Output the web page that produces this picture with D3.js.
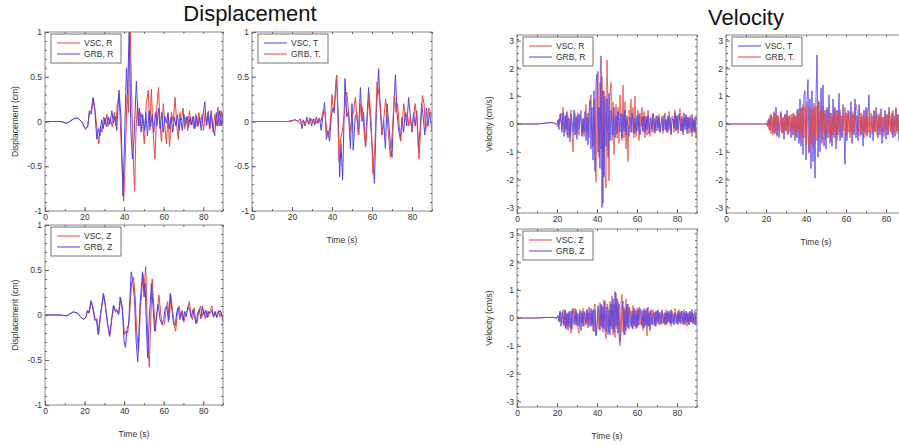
<!DOCTYPE html>
<html>
<head>
<meta charset="utf-8">
<script src="https://cdn.jsdelivr.net/npm/d3@7"></script>
<style>
  body { margin: 0; background: #fff; }
  text { font-family: "Liberation Sans", Arial, sans-serif; }
</style>
</head>
<body>
<div class="canvas"></div>
<script>
// ---- displacement traces, [time (s), displacement (cm)] ----
const dispR_VSC = [[0,0],[8,0],[11,-0.02],[14.5,0.03],[16.5,0.04],[18.5,0],[20.5,-0.09],[21.6,-0.05],[22.5,0.1],[23.4,0.08],[24.5,0.25],[25.4,0.1],[26.4,-0.1],[27.2,-0.25],[28,-0.05],[28.8,-0.12],[29.6,0.05],[30.4,-0.04],[31.3,0.08],[32.1,-0.05],[33,0.04],[34,-0.06],[35,0.1],[35.8,-0.05],[36.6,0.2],[37.5,0.3],[38.6,-0.3],[39.8,-0.89],[40.6,-0.4],[41.5,0.3],[42.2,0.1],[43,1.15],[43.9,0.2],[44.5,-0.3],[45.3,-0.78],[46,-0.1],[46.8,0.2],[47.6,-0.05],[48.4,0.1],[49.2,0.02],[50.2,-0.25],[51.2,0.2],[52.2,0.35],[53,-0.1],[53.8,0.36],[54.6,-0.1],[55.6,-0.42],[56.5,0.15],[57.4,0.38],[58.2,-0.05],[58.9,-0.23],[59.8,0.2],[60.6,-0.05],[61.4,-0.25],[62.2,0.05],[63,-0.28],[63.9,0.1],[64.8,0],[65.8,0.27],[66.6,-0.05],[67.4,-0.2],[68.2,0.1],[69,0.02],[69.8,0.15],[70.6,-0.08],[71.4,0.05],[72.2,-0.1],[73,0.12],[73.8,-0.04],[74.6,0.05],[75.4,-0.08],[76.2,0.08],[77,-0.06],[77.8,0.1],[78.6,-0.04],[79.4,0.08],[80.2,-0.1],[81,0.1],[81.8,-0.04],[82.6,0.12],[83.4,-0.08],[84.2,0.05],[85,-0.12],[85.8,0.08],[86.6,-0.05],[87.4,0.16],[88.2,-0.05],[89,0.12],[90,-0.05]];
const dispR_GRB = [[0,0],[8,0],[11,-0.02],[14.5,0.03],[16.5,0.04],[18.5,0],[20.5,-0.08],[21.6,-0.06],[22.4,0.12],[23.2,0.1],[24.3,0.27],[25.2,0.12],[26.2,-0.2],[27,-0.08],[27.8,-0.16],[28.6,0.02],[29.4,-0.08],[30.3,0.04],[31.2,-0.06],[32,0.05],[32.8,-0.03],[33.8,0.12],[34.6,-0.02],[35.5,0.06],[36.3,-0.1],[37.4,0.35],[38.4,0.05],[39.4,-0.83],[40.1,-0.3],[41.2,0.6],[41.8,0.3],[42.6,1.1],[43.4,-0.1],[44.2,-0.42],[45,-0.2],[46.2,0.45],[47.2,-0.05],[47.8,0.15],[48.6,-0.12],[49.4,0.08],[50.2,-0.1],[51,0.1],[51.8,-0.16],[52.6,0.12],[53.4,-0.06],[54.2,0.08],[55,-0.12],[55.8,0.1],[56.6,-0.05],[57.4,0.15],[58.2,-0.08],[59,0.1],[59.8,-0.12],[60.6,0.06],[61.4,-0.02],[62.2,0.1],[63,-0.08],[63.8,0.05],[64.6,-0.12],[65.4,0.05],[66.2,-0.05],[67,0.08],[67.8,-0.1],[68.6,0.04],[69.4,-0.1],[70.2,0.08],[71,-0.04],[71.8,0.06],[72.6,-0.06],[73.4,0.05],[74.2,-0.04],[75,0.06],[75.8,-0.08],[76.6,0.06],[77.4,-0.05],[78.2,0.05],[79,-0.1],[79.8,0.05],[80.8,0.22],[81.6,-0.05],[82.4,0.1],[83.2,-0.08],[84,0.12],[84.8,-0.05],[85.8,-0.16],[86.6,0.1],[87.4,-0.05],[88.2,0.12],[89,-0.05],[90,0.1]];

const dispT_VSC = [[0,0],[18,0],[20,0.01],[21.5,0.02],[23,0],[24.2,0.03],[25,-0.08],[25.8,0.01],[26.6,-0.05],[27.4,0.05],[28.2,-0.03],[29,0.04],[29.8,-0.05],[30.6,0.03],[31.4,-0.04],[32.2,0.05],[33,-0.02],[33.8,0.03],[34.6,-0.1],[35.4,0.05],[36.3,0.21],[37.2,-0.2],[38,-0.1],[38.8,-0.22],[39.6,0.05],[40.4,0.15],[41.1,0.1],[42.2,0.5],[43.1,0.1],[43.8,-0.62],[44.5,-0.25],[45.3,-0.65],[46.5,0.48],[47.4,0.05],[48.2,0.12],[49.2,-0.3],[50,0.2],[50.6,-0.32],[51.6,0.05],[52.4,0.1],[53.2,-0.15],[54.2,0.38],[55,0],[55.8,0.1],[56.7,-0.28],[57.5,0.05],[58.3,0.38],[59.2,0],[60.2,-0.3],[61.2,-0.69],[62.2,0.1],[63.3,0.59],[64.2,0.1],[65,-0.15],[65.8,0.02],[66.7,-0.3],[67.5,0.2],[68.3,0],[69.2,-0.25],[70,-0.4],[70.8,0.1],[71.7,0.52],[72.5,0.1],[73.3,-0.1],[74.2,-0.2],[75,0.05],[75.8,-0.12],[76.6,0.1],[77.4,-0.05],[78.3,0.27],[79.2,0.05],[80,-0.12],[80.8,0.1],[81.6,-0.05],[82.4,0.12],[83.2,-0.3],[84,-0.1],[84.8,0.2],[85.6,0.05],[86.4,-0.15],[87.2,0.15],[88,-0.05],[88.8,0.1],[90,-0.1]];
const dispT_GRB = [[0,0],[18,0],[20,0.005],[21.5,0.02],[23,0],[24.5,-0.03],[25.5,0.02],[26.5,-0.04],[27.5,0.03],[28.5,-0.03],[29.5,0.03],[30.5,-0.02],[31.5,0.03],[32.5,-0.02],[33.5,0.04],[34.5,0],[35.5,0.12],[36.5,0.1],[37.5,-0.15],[38.3,-0.18],[39.2,0],[40,0.3],[40.8,0.1],[41.6,0.3],[42.4,0.52],[43.5,-0.45],[44.3,-0.2],[45.2,-0.1],[46.2,0.1],[47.4,0.33],[48.3,0.1],[49.2,-0.1],[50,0.05],[50.8,0.1],[51.7,0.27],[52.6,0],[53.4,-0.15],[54.3,0.2],[55.2,0.15],[56.2,-0.15],[56.9,-0.28],[57.8,0.1],[58.6,0.3],[59.6,0],[60.4,-0.58],[61.4,-0.3],[62.5,0.44],[63.5,0.3],[64.4,0.1],[65.2,-0.15],[66,0.05],[66.8,0.25],[67.6,0.05],[68.4,-0.2],[69.2,-0.4],[70.2,-0.1],[71.2,0.3],[72,0.1],[72.8,0.2],[73.6,-0.05],[74.4,-0.22],[75.2,0],[75.9,0.2],[76.8,0.02],[77.6,0.1],[78.4,-0.05],[79.2,0.05],[80,-0.1],[80.8,0.05],[81.6,0.2],[82.5,0],[83.5,-0.42],[84.3,-0.1],[85.2,0.29],[86,0.2],[86.8,-0.1],[87.6,0],[88.4,0.15],[89.2,0.1],[90,0.05]];

const dispZ_VSC = [[0,0],[8,0],[11,-0.01],[14.3,0.035],[16.5,0.02],[18,-0.02],[19.7,-0.05],[20.8,-0.02],[21.6,0.05],[22.4,0.03],[23.4,0.15],[24.3,0.08],[25.4,-0.05],[26.2,-0.04],[27.2,-0.2],[28.2,0.02],[29.7,0.22],[30.6,0.1],[31.7,-0.1],[32.8,-0.24],[33.8,-0.05],[34.8,0.1],[35.7,0.03],[36.5,0.05],[37.4,0.02],[38.3,0.18],[39.2,0.05],[40.2,-0.22],[41,-0.18],[41.8,-0.2],[42.6,-0.05],[43.8,0.36],[44.8,0.42],[45.6,0.2],[46.4,-0.2],[47.3,-0.4],[48.2,0.05],[49.6,0.45],[50.2,0.3],[50.9,0.54],[51.7,-0.1],[52.7,-0.58],[53.4,-0.1],[54.2,0.4],[55,0.1],[55.8,-0.18],[56.8,0.05],[57.6,0.22],[58.6,0],[59.5,-0.12],[60.4,-0.1],[61.2,0.05],[62,0.15],[62.8,-0.05],[63.6,0.22],[64.5,0.05],[65.4,-0.12],[66.1,-0.18],[67,0.05],[67.8,0.1],[68.6,-0.02],[69.4,0.05],[70.2,-0.08],[71,0.02],[72,0.05],[73,0.15],[73.8,0],[74.6,-0.05],[75.4,0.08],[76.2,-0.05],[77,-0.08],[77.8,0.05],[78.6,0.1],[79.4,-0.02],[80.2,0.06],[81,-0.04],[81.8,0.05],[82.6,-0.02],[83.4,0.04],[84.4,0.1],[85.2,-0.03],[86,0.03],[86.8,-0.02],[87.6,0.05],[88.4,-0.02],[89.2,0.03],[90,-0.07]];
const dispZ_GRB = [[0,0],[8,0],[11,-0.01],[14.3,0.035],[16.5,0.02],[18,-0.02],[19.7,-0.05],[20.6,-0.03],[21.4,0.05],[22.2,0.02],[23.2,0.16],[24,0.1],[25.2,-0.06],[26,-0.05],[26.9,-0.22],[28,0],[29.5,0.24],[30.4,0.12],[31.5,-0.08],[32.6,-0.23],[33.6,-0.06],[34.6,0.11],[35.5,0.05],[36.3,0.06],[37.2,0],[38,0.2],[39,0.1],[40,-0.3],[40.7,-0.36],[41.5,-0.15],[42.3,-0.1],[43.6,0.48],[44.5,0.35],[45.3,0.15],[46.1,-0.3],[46.9,-0.52],[48,0.1],[49.3,0.48],[50.1,0.2],[50.6,0.35],[51.4,-0.2],[51.9,-0.48],[52.8,0],[53.8,0.35],[54.6,0.1],[55.4,-0.18],[56.4,0],[57.2,0.12],[58.2,-0.05],[59.1,-0.1],[60,-0.05],[60.8,0.08],[61.6,0.1],[62.4,-0.08],[63.3,0.24],[64.2,0.05],[65,-0.1],[65.8,-0.12],[66.6,0.03],[67.4,0.08],[68.2,-0.05],[69,0.04],[69.8,-0.06],[70.6,0.04],[71.4,-0.02],[72.4,0.1],[73.2,0.05],[74,-0.03],[74.8,0.06],[75.6,-0.02],[76.4,-0.1],[77.2,0.02],[78,0.06],[78.8,-0.04],[79.6,0.1],[80.4,0],[81.2,0.05],[82,-0.03],[82.8,0.04],[83.6,0.02],[84.4,0.05],[85.2,-0.02],[86,0.04],[86.8,-0.03],[87.6,0.02],[88.6,0.05],[89.3,0],[90,-0.08]];

// ---- velocity traces: shared sample times (s), values in cm/s ----
const velTime = [0, 10, 15, 18, 19.5].concat(d3.range(20, 90.01, 0.5));

const velR_VSC = [0, 0, 0.04, 0.05, 0,
  0, -0.1, 0.2, 0.05, 0.4, -0.2, 0.6, 0.1, -0.3, 0.35,
  -0.4, 0.3, 0.1, -0.45, 0.5, -0.3, -1.0, 0.25, 0.4, -0.35,
  0.3, -0.2, -0.4, 0.25, 0.5, -0.35, 0.2, -0.45, 0.1, 0.7,
  -0.3, 0.4, -0.5, 0.6, 1.05, -0.4, -0.8, 0.9, -1.2, -2.1,
  0.9, 1.9, -1.2, 1.5, -0.9, 1.7, -2.85, 1.2, -1.8, -2.3,
  2.3, 0.5, -2.05, 1.0, 1.5, -0.6, 0.8, -1.1, -0.3, 0.7,
  -0.5, 0.6, -0.7, 1.05, 0.2, -0.6, 1.4, -0.5, 0.8, -0.9,
  0.2, -1.35, 0.5, 0.1, 0.9, -0.3, 0.6, -0.5, 1.0, -0.45,
  0.1, 0.5, -0.6, 0.4, -0.1, 0.6, -0.3, 0.45, -0.5, 0.3,
  -0.4, 0.5, 0.1, -0.45, 0.25, -0.3, 0.4, 0.1, -0.35, 0.3,
  0.2, -0.25, 0.35, -0.3, -0.1, 0.3, -0.35, 0.2, 0.4, -0.25,
  0.2, -0.3, 0.45, 0.1, -0.4, 0.3, 0.25, -0.3, 0.5, -0.2,
  0.3, -0.35, 0, 0.55, -0.25, 0.3, -0.4, 0.2, -0.1, 0.35,
  -0.2, 0.25, -0.35, 0.3, 0.1, -0.45, 0.2, -0.3, 0.25, -0.5,
  -0.1];
const velR_GRB = [0, 0, 0.04, 0.05, 0,
  0, 0.15, -0.2, 0.35, 0.1, -0.3, 0.4, -0.45, 0.3, -0.2,
  0.45, -0.5, 0.2, -0.65, 0.35, 0.1, -0.3, 0.5, -0.4, 0.25,
  -0.55, 0.4, -0.2, 0.35, 0.05, -0.45, 0.2, -0.3, 0.45, -0.6,
  0.25, -0.75, 0.4, 0.85, -0.9, 0.6, -1.3, 1.2, -1.7, 1.5,
  1.8, -1.0, 0.6, -1.6, 2.45, -3.0, 1.2, -1.9, 1.0, -0.8,
  0.9, -1.2, 1.1, -0.6, 0.5, 0.1, -0.4, 0.6, -0.5, 0.3,
  -0.35, 0.45, 0.1, -0.3, 0.4, -0.5, 0.35, -0.25, 0.5, -0.4,
  0.3, -0.1, -0.45, 0.25, -0.3, 0.4, 0.1, -0.35, 0.2, -0.3,
  0.3, -0.25, 0.35, -0.4, -0.1, 0.25, -0.25, 0.3, -0.3, 0.25,
  -0.2, 0.3, -0.35, 0.2, 0.1, -0.2, 0.35, -0.3, 0.2, -0.25,
  0.3, -0.15, 0.25, -0.3, 0.05, 0.2, -0.25, 0.3, -0.2, 0.15,
  -0.3, 0.3, -0.2, 0.25, -0.35, 0.1, 0.2, -0.15, 0.4, -0.25,
  0.3, -0.2, 0.35, 0.1, -0.25, 0.2, -0.3, 0.4, -0.2, 0.3,
  -0.35, 0.25, -0.15, 0.2, -0.3, 0.35, -0.25, 0.15, -0.3, 0.25,
  0.1];

const velT_VSC = [0, 0, 0, 0, 0,
  0, 0.05, -0.1, 0.2, -0.25, 0.35, 0.1, -0.3, 0.4, -0.35,
  0.6, -0.4, 0.3, -0.5, 0.1, 0.45, -0.3, 0.25, -0.55, 0.35,
  -0.25, 0.5, -0.35, 0.3, 0.05, -0.5, 0.25, -0.4, 0.35, -0.6,
  0.3, -0.5, 0.55, -0.7, 0.9, -0.8, 0.6, -1.1, 1.0, 1.2,
  -1.3, 0.8, 1.6, -1.0, 0.9, -1.6, 1.2, -1.35, 0.6, -1.95,
  1.0, 2.48, -1.2, 0.8, -1.0, 1.3, -0.6, 1.4, -0.8, 0.5,
  -0.9, 0.6, -0.5, 1.05, -0.7, 0.4, -0.8, 0.9, -0.5, 0.6,
  -0.9, 0.5, -0.4, 1.1, -0.6, 0.3, -0.5, 0.7, -0.3, -1.45,
  0.4, -0.6, 0.5, 0.1, -0.3, 0.8, -0.7, 0.35, -0.4, 0.9,
  -0.5, 0.3, -0.6, 0.7, 0.2, -0.4, 0.25, -0.8, 0.5, -0.3,
  0.6, -0.45, 0.35, 1.05, -0.5, -0.35, 0.3, -0.6, 0.45, -0.3,
  0.6, 0.1, -0.5, 0.3, -0.4, 0.55, -0.7, 0.25, -0.3, 0.5,
  -0.55, 0.35, -0.4, 0.6, 0.1, -0.3, 0.4, -0.5, 0.3, -0.45,
  0.55, -0.25, 0.35, -0.6, 0.4, 0.1, -0.3, 0.25, -0.5, 0.45,
  -0.3];
const velT_GRB = [0, 0, 0, 0, 0,
  0, -0.05, 0.15, -0.2, 0.3, -0.35, 0.25, -0.4, 0.45, -0.3,
  0.35, -0.45, 0.3, 0.05, -0.25, 0.4, -0.35, 0.2, -0.3, 0.35,
  -0.25, 0.3, -0.4, 0.25, -0.3, 0.35, -0.2, 0.4, -0.35, 0.3,
  -0.45, 0.5, -0.3, 0.4, -0.6, 0.55, -0.4, 0.7, -0.5, 0.6,
  -0.75, 0.8, -0.5, -1.05, 0.6, -0.7, 0.5, -0.8, 0.75, -0.4,
  0.65, -0.6, 0.85, -0.5, 0.45, 0.1, -0.7, 0.6, -0.3, 0.4,
  -0.55, 0.5, 0.1, -0.35, 0.4, -0.6, 0.3, -0.4, 0.55, -0.3,
  0.45, -0.6, 0.35, -0.3, 0.5, 0.1, -0.45, 0.3, -0.25, 0.6,
  -0.4, 0.35, -0.3, 0.45, -0.5, 0.3, -0.35, 0.45, -0.3, 0.25,
  0.7, 0.5, -0.35, 0.3, -0.45, 0.4, -0.25, 0.35, -0.5, 0.3,
  -0.4, 0.55, -0.3, 0.25, -0.35, 0.4, 0.1, -0.3, 0.5, -0.25,
  0.3, -0.4, 0.35, -0.2, 0.4, -0.3, 0.25, 0.05, -0.45, 0.35,
  -0.2, 0.3, -0.35, 0.45, -0.25, 0.3, -0.4, 0.5, -0.3, 0.25,
  0.6, -0.35, 0.3, -0.25, 0.45, -0.3, 0.2, -0.4, 0.35, -0.15,
  0.1];

const velZ_VSC = [0, 0, 0.02, 0.02, 0,
  0, 0.05, -0.1, 0.2, 0.05, -0.2, 0.3, -0.3, 0.25, -0.35,
  0.2, -0.45, 0.25, -0.1, -0.55, 0.3, 0.1, -0.25, 0.35, -0.3,
  0.2, -0.4, -0.55, 0.3, 0.25, -0.2, 0.35, -0.3, 0.2, -0.25,
  0.3, -0.2, 0.4, 0.1, -0.3, 0.25, -0.45, 0.35, 0.5, -0.6,
  -0.4, 0.3, -0.4, 0.55, -0.3, 0.45, -0.5, 0.65, -0.45, -0.75,
  0.5, 0.4, -0.5, 0.6, -0.3, 0.8, -0.6, 0.5, -0.7, 0.9,
  -0.4, 0.6, -0.7, -1.0, 0.5, 0.85, -0.5, 0.4, -0.6, 0.7,
  -0.3, 0.5, -0.4, 0.3, 0.05, -0.35, 0.45, -0.25, 0.3, -0.4,
  0.35, -0.3, 0.4, 0.1, -0.25, 0.3, -0.45, 0.35, -0.3, 0.25,
  -0.65, 0.4, -0.3, 0.25, 0.05, -0.2, 0.3, -0.25, 0.2, -0.3,
  0.25, -0.15, 0.2, 0.05, -0.25, 0.3, -0.2, 0.15, -0.25, 0.3,
  -0.2, 0.25, -0.15, 0.2, -0.3, 0.25, 0.05, -0.15, 0.35, -0.2,
  0.15, -0.25, 0.3, -0.2, 0.25, 0.05, -0.15, 0.3, -0.25, 0.2,
  -0.3, 0.15, -0.2, 0.25, -0.15, 0.2, -0.2, 0.15, 0.25, -0.2,
  0.05];
const velZ_GRB = [0, 0, 0.02, 0.02, 0,
  0, 0.1, -0.15, 0.25, -0.3, 0.2, 0.05, -0.25, 0.3, -0.4,
  0.15, -0.3, 0.2, -0.35, 0.25, -0.4, 0.35, 0.1, -0.2, 0.3,
  -0.25, 0.15, -0.3, 0.25, -0.45, 0.2, -0.3, 0.25, 0.05, -0.2,
  0.3, -0.35, 0.2, -0.3, 0.35, -0.25, 0.3, -0.5, 0.3, -0.65,
  -0.25, 0.45, 0.2, -0.45, 0.5, -0.35, 0.4, -0.4, 0.6, -0.5,
  0.4, -0.6, 0.3, -0.6, 0.5, -0.4, 0.7, -0.5, 0.95, -0.3,
  0.7, -0.55, 0.5, -0.85, -0.6, 0.4, 0.6, -0.6, 0.3, -0.45,
  0.5, -0.35, 0.4, 0.1, -0.3, 0.25, -0.4, 0.35, -0.3, 0.25,
  -0.35, 0.3, -0.25, 0.35, 0.05, -0.3, 0.25, -0.35, 0.3, -0.25,
  0.35, -0.3, 0.2, -0.45, 0.3, -0.25, 0.05, 0.2, -0.3, 0.25,
  -0.2, 0.3, -0.25, 0.2, -0.2, 0.25, 0.05, -0.2, 0.2, -0.25,
  0.2, -0.15, 0.25, -0.2, 0.3, -0.2, 0.15, -0.25, 0.2, 0.05,
  -0.2, 0.25, -0.15, 0.2, -0.2, 0.25, -0.25, 0.2, -0.2, 0.25,
  -0.15, 0.2, -0.25, 0.2, -0.15, 0.3, -0.2, 0.15, -0.25, 0.2,
  0.1];

// ---- axis ticks ----
const timeTicks = [0, 20, 40, 60, 80];
const dispTicks = [-1, -0.5, 0, 0.5, 1];
const velTicks = [-3, -2, -1, 0, 1, 2, 3];

const RED = '#e8463f';
const BLUE = '#4c40ee';

const svg = d3.select('.canvas')
    .append('svg')
        .attr('width', 899)
        .attr('height', 446);

// titles
svg.append('text').attr('x', 250).attr('y', 21).attr('text-anchor', 'middle')
    .attr('font-size', 22).attr('fill', '#111').text('Displacement');
svg.append('text').attr('x', 746).attr('y', 25).attr('text-anchor', 'middle')
    .attr('font-size', 22).attr('fill', '#111').text('Velocity');

const panels = [
    {left: 45, top: 32, w: 178, h: 179, ymax: 1, yt: dispTicks, minor: 0.1, sw: 1, ylab: 'Displacement (cm)', ylabX: 15, xlab: false,
     series: [['VSC, R', RED, dispR_VSC], ['GRB, R', BLUE, dispR_GRB]]},
    {left: 252, top: 32, w: 180, h: 179, ymax: 1, yt: dispTicks, minor: 0.1, sw: 1, ylab: null, xlab: true,
     series: [['VSC, T', BLUE, dispT_VSC], ['GRB, T.', RED, dispT_GRB]]},
    {left: 45, top: 225, w: 178, h: 180, ymax: 1, yt: dispTicks, minor: 0.1, sw: 1, ylab: 'Displacement (cm)', ylabX: 15, xlab: true,
     series: [['VSC, Z', RED, dispZ_VSC], ['GRB, Z', BLUE, dispZ_GRB]]},
    {left: 517, top: 35, w: 180, h: 178, ymax: 3.2, yt: velTicks, minor: 0.25, sw: 0.8, ylab: 'Velocity (cm/s)', ylabX: 489, xlab: false,
     series: [['VSC, R', RED, d3.zip(velTime, velR_VSC)], ['GRB, R', BLUE, d3.zip(velTime, velR_GRB)]]},
    {left: 726, top: 35, w: 180, h: 178, ymax: 3.2, yt: velTicks, minor: 0.25, sw: 0.8, ylab: null, xlab: true,
     series: [['VSC, T', BLUE, d3.zip(velTime, velT_VSC)], ['GRB, T.', RED, d3.zip(velTime, velT_GRB)]]},
    {left: 517, top: 229, w: 180, h: 178, ymax: 3.2, yt: velTicks, minor: 0.25, sw: 0.8, ylab: 'Velocity (cm/s)', ylabX: 489, xlab: true,
     series: [['VSC, Z', RED, d3.zip(velTime, velZ_VSC)], ['GRB, Z', BLUE, d3.zip(velTime, velZ_GRB)]]}
];

panels.forEach((p, i) => {
    const x = d3.scaleLinear().domain([0, 90]).range([0, p.w]);
    const y = d3.scaleLinear().domain([-p.ymax, p.ymax]).range([p.h, 0]);

    const g = svg.append('g').attr('transform', `translate(${p.left},${p.top})`);

    g.append('clipPath').attr('id', 'clip' + i)
        .append('rect').attr('width', p.w).attr('height', p.h);

    const line = d3.line().x(d => x(d[0])).y(d => y(d[1]));
    const lines = g.append('g').attr('clip-path', `url(#clip${i})`);
    p.series.forEach(s => {
        lines.append('path')
            .attr('d', line(s[2]))
            .attr('fill', 'none')
            .attr('stroke', s[1])
            .attr('stroke-width', p.sw)
            .attr('stroke-linejoin', 'round');
    });

    // frame
    g.append('rect').attr('width', p.w).attr('height', p.h)
        .attr('fill', 'none').attr('stroke', '#8a8a8a').attr('stroke-width', 1);

    // axes with inward ticks
    const minorX = d3.range(0, 90.01, 10);
    const minorY = d3.range(-p.ymax, p.ymax + 1e-6, p.minor).filter(v => Math.abs(v) <= p.ymax);
    const styleAxis = sel => {
        sel.select('.domain').remove();
        sel.selectAll('line').attr('stroke', '#666');
        sel.selectAll('text').attr('font-size', 8.5).attr('fill', '#333')
            .attr('font-family', '"Liberation Sans", Arial, sans-serif');
    };

    g.append('g').attr('transform', `translate(0,${p.h})`)
        .call(d3.axisBottom(x).tickValues(timeTicks).tickSize(-4).tickPadding(3).tickFormat(d => d))
        .call(styleAxis);
    g.append('g').attr('transform', `translate(0,${p.h})`)
        .call(d3.axisBottom(x).tickValues(minorX).tickSize(-2).tickFormat(''))
        .call(styleAxis);
    g.append('g')
        .call(d3.axisTop(x).tickValues(minorX).tickSize(-2).tickFormat(''))
        .call(styleAxis);

    g.append('g')
        .call(d3.axisLeft(y).tickValues(p.yt).tickSize(-4).tickPadding(3).tickFormat(d => String(d)))
        .call(styleAxis);
    g.append('g')
        .call(d3.axisLeft(y).tickValues(minorY).tickSize(-2).tickFormat(''))
        .call(styleAxis);
    g.append('g').attr('transform', `translate(${p.w},0)`)
        .call(d3.axisRight(y).tickValues(minorY).tickSize(-2).tickFormat(''))
        .call(styleAxis);

    // axis titles
    if (p.ylab) {
        svg.append('text')
            .attr('transform', `translate(${p.ylabX},${p.top + p.h / 2}) rotate(-90)`)
            .attr('text-anchor', 'middle').attr('dy', '0.35em')
            .attr('font-size', 8.5).attr('fill', '#333').text(p.ylab);
    }
    if (p.xlab) {
        g.append('text').attr('x', p.w / 2).attr('y', p.h + 32)
            .attr('text-anchor', 'middle')
            .attr('font-size', 8.5).attr('fill', '#333').text('Time (s)');
    }

    // legend
    const lg = g.append('g').attr('transform', 'translate(6,2)');
    lg.append('rect').attr('width', 70).attr('height', 29)
        .attr('fill', '#fff').attr('stroke', '#777').attr('stroke-width', 1);
    p.series.forEach((s, k) => {
        const yy = 9 + k * 11;
        lg.append('line').attr('x1', 6).attr('x2', 29).attr('y1', yy).attr('y2', yy)
            .attr('stroke', s[1]).attr('stroke-width', 1);
        lg.append('text').attr('x', 33).attr('y', yy).attr('dy', '0.35em')
            .attr('font-size', 8.5).attr('fill', '#333').text(s[0]);
    });
});
</script>
</body>
</html>
